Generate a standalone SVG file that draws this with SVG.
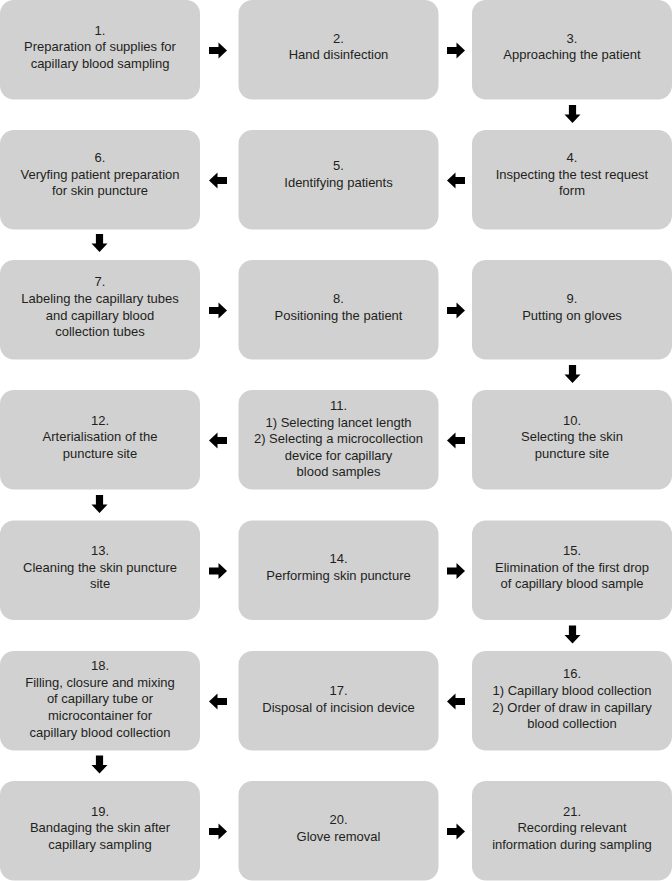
<svg xmlns="http://www.w3.org/2000/svg" xmlns:xlink="http://www.w3.org/1999/xlink" width="672" height="881" viewBox="0 0 672 881">
<style>
.box{fill:#d1d1d1;}
.t{font-family:"Liberation Sans",Arial,sans-serif;font-size:13px;fill:#231f20;text-anchor:middle;}
.arr{fill:#000;}
</style>
<defs>
<path id="arw" d="M-9,-3.6 H0.5 V-8 L9,0 L0.5,8 V3.6 H-9 Z"/>
</defs>
<rect width="672" height="881" fill="#fff"/>
<g id="n1"><rect class="box" x="0" y="0" width="200" height="99.5" rx="14"/>
<text class="t" x="100"><tspan x="100" y="34.5">1.</tspan><tspan x="100" y="51.1">Preparation of supplies for</tspan><tspan x="100" y="67.7">capillary blood sampling</tspan></text></g>
<g id="n2"><rect class="box" x="238.5" y="0" width="200" height="99.5" rx="14"/>
<text class="t"><tspan x="338.5" y="42.8">2.</tspan><tspan x="338.5" y="59.4">Hand disinfection</tspan></text></g>
<g id="n3"><rect class="box" x="472" y="0" width="200" height="99.5" rx="14"/>
<text class="t"><tspan x="572" y="42.8">3.</tspan><tspan x="572" y="59.4">Approaching the patient</tspan></text></g>

<g id="n4"><rect class="box" x="472" y="130" width="200" height="99.5" rx="14"/>
<text class="t"><tspan x="572" y="162.1">4.</tspan><tspan x="572" y="178.7">Inspecting the test request</tspan><tspan x="572" y="195.3">form</tspan></text></g>
<g id="n5"><rect class="box" x="238.5" y="130" width="200" height="99.5" rx="14"/>
<text class="t"><tspan x="338.5" y="170.4">5.</tspan><tspan x="338.5" y="187">Identifying patients</tspan></text></g>
<g id="n6"><rect class="box" x="0" y="130" width="200" height="99.5" rx="14"/>
<text class="t"><tspan x="100" y="162.1">6.</tspan><tspan x="100" y="178.7">Veryfing patient preparation</tspan><tspan x="100" y="195.3">for skin puncture</tspan></text></g>

<g id="n7"><rect class="box" x="0" y="260" width="200" height="99.5" rx="14"/>
<text class="t"><tspan x="100" y="286.3">7.</tspan><tspan x="100" y="302.9">Labeling the capillary tubes</tspan><tspan x="100" y="319.5">and capillary blood</tspan><tspan x="100" y="336.1">collection tubes</tspan></text></g>
<g id="n8"><rect class="box" x="238.5" y="260" width="200" height="99.5" rx="14"/>
<text class="t"><tspan x="338.5" y="302.9">8.</tspan><tspan x="338.5" y="319.5">Positioning the patient</tspan></text></g>
<g id="n9"><rect class="box" x="472" y="260" width="200" height="99.5" rx="14"/>
<text class="t"><tspan x="572" y="302.9">9.</tspan><tspan x="572" y="319.5">Putting on gloves</tspan></text></g>

<g id="n10"><rect class="box" x="472" y="390" width="200" height="99.5" rx="14"/>
<text class="t"><tspan x="572" y="424.6">10.</tspan><tspan x="572" y="441.2">Selecting the skin</tspan><tspan x="572" y="457.8">puncture site</tspan></text></g>
<g id="n11"><rect class="box" x="238.5" y="390" width="200" height="99.5" rx="14"/>
<text class="t"><tspan x="338.5" y="410">11.</tspan><tspan x="338.5" y="426.6">1) Selecting lancet length</tspan><tspan x="338.5" y="443.2">2) Selecting a microcollection</tspan><tspan x="338.5" y="459.8">device for capillary</tspan><tspan x="338.5" y="476.4">blood samples</tspan></text></g>
<g id="n12"><rect class="box" x="0" y="390" width="200" height="99.5" rx="14"/>
<text class="t"><tspan x="100" y="424.6">12.</tspan><tspan x="100" y="441.2">Arterialisation of the</tspan><tspan x="100" y="457.8">puncture site</tspan></text></g>

<g id="n13"><rect class="box" x="0" y="520.5" width="200" height="99.5" rx="14"/>
<text class="t"><tspan x="100" y="555.1">13.</tspan><tspan x="100" y="571.7">Cleaning the skin puncture</tspan><tspan x="100" y="588.3">site</tspan></text></g>
<g id="n14"><rect class="box" x="238.5" y="520.5" width="200" height="99.5" rx="14"/>
<text class="t"><tspan x="338.5" y="563.4">14.</tspan><tspan x="338.5" y="580">Performing skin puncture</tspan></text></g>
<g id="n15"><rect class="box" x="472" y="520.5" width="200" height="99.5" rx="14"/>
<text class="t"><tspan x="572" y="555.1">15.</tspan><tspan x="572" y="571.7">Elimination of the first drop</tspan><tspan x="572" y="588.3">of capillary blood sample</tspan></text></g>

<g id="n16"><rect class="box" x="472" y="651" width="200" height="99.5" rx="14"/>
<text class="t"><tspan x="572" y="678.4">16.</tspan><tspan x="572" y="695">1) Capillary blood collection</tspan><tspan x="572" y="711.6">2) Order of draw in capillary</tspan><tspan x="572" y="728.2">blood collection</tspan></text></g>
<g id="n17"><rect class="box" x="238.5" y="651" width="200" height="99.5" rx="14"/>
<text class="t"><tspan x="338.5" y="695">17.</tspan><tspan x="338.5" y="711.6">Disposal of incision device</tspan></text></g>
<g id="n18"><rect class="box" x="0" y="651" width="200" height="99.5" rx="14"/>
<text class="t"><tspan x="100" y="670.2">18.</tspan><tspan x="100" y="686.8">Filling, closure and mixing</tspan><tspan x="100" y="703.4">of capillary tube or</tspan><tspan x="100" y="720">microcontainer for</tspan><tspan x="100" y="736.6">capillary blood collection</tspan></text></g>

<g id="n19"><rect class="box" x="0" y="781" width="200" height="99.5" rx="14"/>
<text class="t"><tspan x="100" y="815.6">19.</tspan><tspan x="100" y="832.2">Bandaging the skin after</tspan><tspan x="100" y="848.8">capillary sampling</tspan></text></g>
<g id="n20"><rect class="box" x="238.5" y="781" width="200" height="99.5" rx="14"/>
<text class="t"><tspan x="338.5" y="823.9">20.</tspan><tspan x="338.5" y="840.5">Glove removal</tspan></text></g>
<g id="n21"><rect class="box" x="472" y="781" width="200" height="99.5" rx="14"/>
<text class="t"><tspan x="572" y="815.6">21.</tspan><tspan x="572" y="832.2">Recording relevant</tspan><tspan x="572" y="848.8">information during sampling</tspan></text></g>

<g id="connectors" class="arr">
<use xlink:href="#arw" href="#arw" transform="translate(218,50.5)"/>
<use xlink:href="#arw" href="#arw" transform="translate(456,50.5)"/>
<use xlink:href="#arw" href="#arw" transform="translate(572.5,114) rotate(90)"/>
<use xlink:href="#arw" href="#arw" transform="translate(456,180.5) rotate(180)"/>
<use xlink:href="#arw" href="#arw" transform="translate(218,180.5) rotate(180)"/>
<use xlink:href="#arw" href="#arw" transform="translate(99.5,243) rotate(90)"/>
<use xlink:href="#arw" href="#arw" transform="translate(218,310.5)"/>
<use xlink:href="#arw" href="#arw" transform="translate(456,310.5)"/>
<use xlink:href="#arw" href="#arw" transform="translate(572.5,374) rotate(90)"/>
<use xlink:href="#arw" href="#arw" transform="translate(456,440.5) rotate(180)"/>
<use xlink:href="#arw" href="#arw" transform="translate(218,440.5) rotate(180)"/>
<use xlink:href="#arw" href="#arw" transform="translate(99.5,504) rotate(90)"/>
<use xlink:href="#arw" href="#arw" transform="translate(218,571)"/>
<use xlink:href="#arw" href="#arw" transform="translate(456,571)"/>
<use xlink:href="#arw" href="#arw" transform="translate(572.5,634.5) rotate(90)"/>
<use xlink:href="#arw" href="#arw" transform="translate(456,701.5) rotate(180)"/>
<use xlink:href="#arw" href="#arw" transform="translate(218,701.5) rotate(180)"/>
<use xlink:href="#arw" href="#arw" transform="translate(99.5,764.5) rotate(90)"/>
<use xlink:href="#arw" href="#arw" transform="translate(218,831.5)"/>
<use xlink:href="#arw" href="#arw" transform="translate(456,831.5)"/>
</g>
</svg>
